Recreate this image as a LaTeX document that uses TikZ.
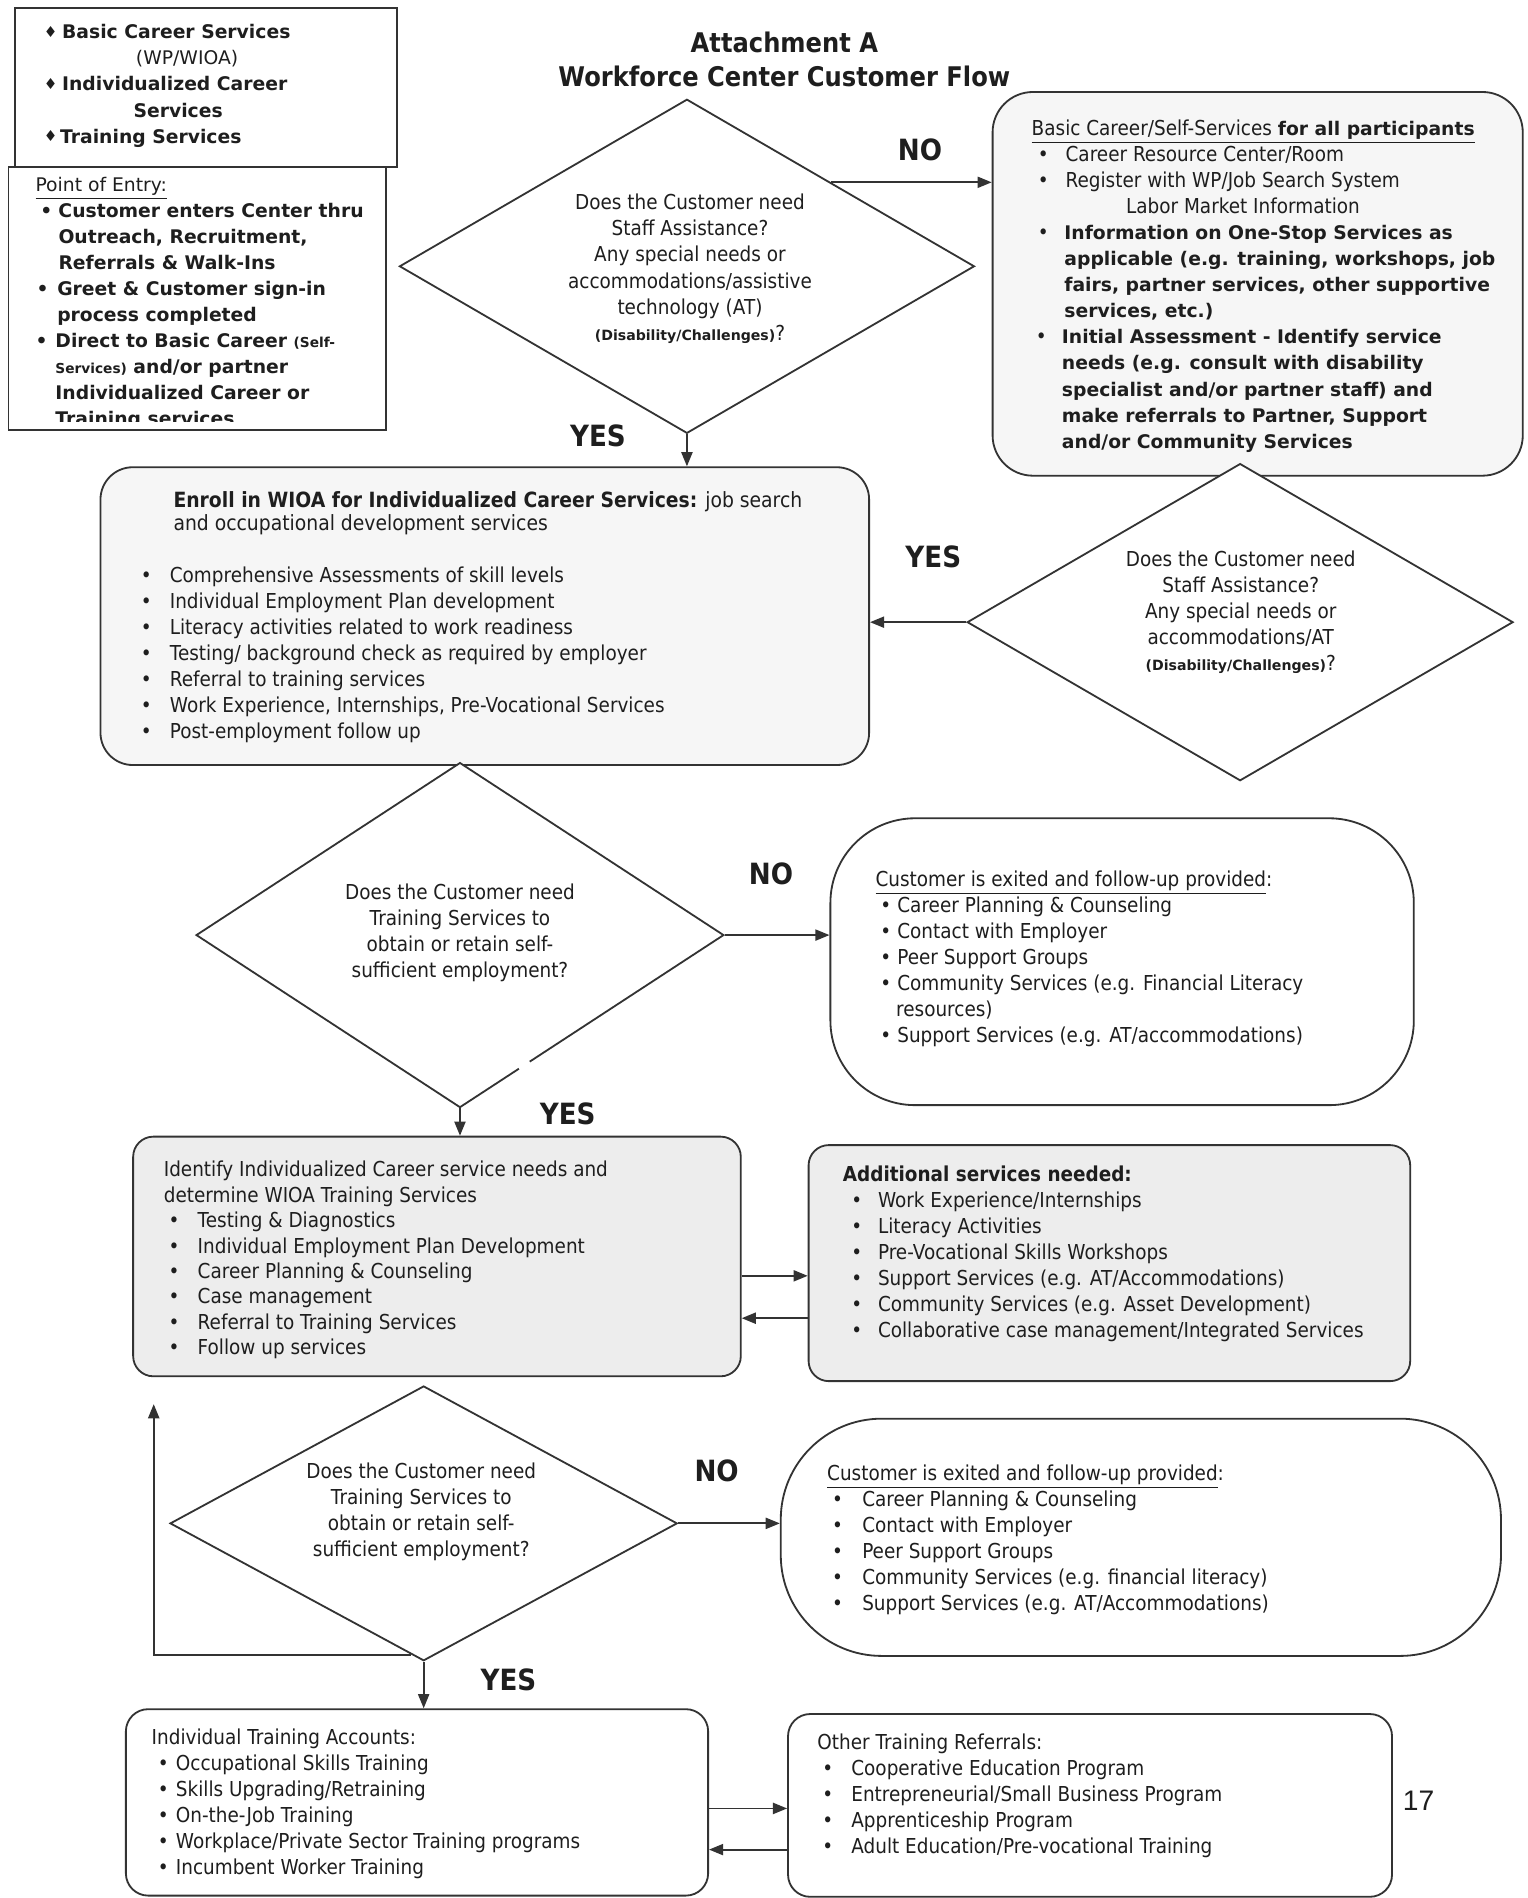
\documentclass[tikz,border=0pt]{standalone}
\usepackage{fontspec}
\setmainfont{DejaVu Sans}[FakeStretch=0.895]
\newfontfamily\verd{DejaVu Sans}
\newfontfamily\arialf{Liberation Sans}
\usetikzlibrary{shapes.geometric,arrows.meta,calc}
\definecolor{ink}{HTML}{1E1E1E}
\definecolor{lineink}{HTML}{333333}
\definecolor{fillA}{HTML}{F6F6F6}
\definecolor{fillB}{HTML}{EDEDED}
\newcommand\bodyf{\fontsize{10.2}{12.9}\selectfont}
\newcommand\vbf{\verd\bfseries\fontsize{9.3}{12.9}\selectfont}
\newcommand\firstl{\rule{0pt}{8pt}}
\newcommand\dmd{\raisebox{0.8pt}{\verd\fontsize{7.5}{7.5}\selectfont\char"2666}}
\newcommand\bul[2][0pt]{\hspace*{#1}\makebox[#2][l]{\textbullet}}
\newcommand\smallbold[1]{{\verd\bfseries\fontsize{7}{12.9}\selectfont #1}}
\begin{document}
\begin{tikzpicture}[x=0.6pt,y=-0.6pt,
  box/.style={draw=lineink, line width=0.9pt, inner sep=0pt},
  dia/.style={diamond, draw=lineink, line width=0.9pt, fill=white, inner sep=0pt},
  txt/.style={anchor=north west, inner sep=0pt, align=left, text=ink, font=\bodyf},
  ctxt/.style={anchor=center, inner sep=0pt, align=center, text=ink, font=\bodyf},
  lab/.style={inner sep=0pt, text=ink, font=\bfseries\fontsize{14.5}{16}\selectfont},
  arr/.style={draw=lineink, line width=0.9pt, -{Triangle[length=7pt,width=5.5pt]}}]
\useasboundingbox (0,0) rectangle (1262,1568);
\fill[white] (0,0) rectangle (1262,1568);

% ---------- boxes ----------
\node[box, minimum width=189.4pt, minimum height=78.7pt] (tl1) at (170.2,72.5) {};
\node[box, minimum width=187.2pt, minimum height=130.2pt] (tl2) at (163,246.5) {};
\node[box, rounded corners=20pt, fill=fillA, minimum width=262.8pt, minimum height=190.2pt] (basic) at (1039,234.5) {};
\node[box, rounded corners=16pt, fill=fillA, minimum width=381pt, minimum height=147.6pt] (enroll) at (400.5,509) {};
\node[box, rounded corners=42pt, minimum width=289.2pt, minimum height=142.2pt] (exit1) at (927,794.5) {};
\node[box, rounded corners=10pt, fill=fillB, minimum width=301.2pt, minimum height=118.8pt] (ident) at (361,1038) {};
\node[box, rounded corners=10pt, fill=fillB, minimum width=298.2pt, minimum height=117pt] (addl) at (916.5,1043.5) {};
\node[box, rounded corners=50pt, minimum width=357pt, minimum height=117.6pt] (exit2) at (942.5,1270) {};
\node[box, rounded corners=11pt, minimum width=288.6pt, minimum height=92.4pt] (ita) at (344.5,1489) {};
\node[box, rounded corners=11pt, minimum width=299.4pt, minimum height=90.6pt] (other) at (900.5,1491.5) {};

% ---------- diamonds ----------
\node[dia, minimum width=285pt, minimum height=165.6pt] (d1) at (567.5,220) {};
\node[dia, minimum width=270.6pt, minimum height=157.2pt] (d2) at (1024.5,514) {};
\node[dia, minimum width=261.6pt, minimum height=171pt] (d3) at (380,772.5) {};
\node[dia, minimum width=251.4pt, minimum height=136.2pt] (d4) at (350,1258.5) {};
\draw[white, line width=3pt] ($(d3.east)!0.735!(d3.south)$) -- ($(d3.east)!0.775!(d3.south)$);

% ---------- title ----------
\node[lab, font=\bfseries\fontsize{13.4}{16}\selectfont] (title1) at (648,35) {Attachment A};
\node[lab, font=\bfseries\fontsize{13.4}{16}\selectfont] (title2) at (648,63) {Workforce Center Customer Flow};

% ---------- top-left texts ----------
\node[txt, font=\vbf] (tl1t) at (36,18.5) {\firstl\makebox[9pt][l]{\dmd}Basic Career Services\\
\hspace*{45.6pt}{\mdseries (WP/WIOA)}\\
\makebox[9pt][l]{\dmd}Individualized Career\\
\hspace*{44.4pt}Services\\
\makebox[8pt][l]{\dmd}Training Services};

\begin{scope}
\clip (7,138) rectangle (319,348);
\node[txt, font=\vbf] (tl2t) at (29,144.5) {\firstl{\mdseries\underline{Point of Entry:}}\\
\bul[2.4pt]{9pt}Customer enters Center thru\\
\hspace*{11.4pt}Outreach, Recruitment,\\
\hspace*{11.4pt}Referrals \& Walk-Ins\\
\bul[0.6pt]{10.2pt}Greet \& Customer sign-in\\
\hspace*{10.8pt}process completed\\
\bul{9.9pt}Direct to Basic Career {\fontsize{6.8}{12.9}\selectfont(Self-}\\
\hspace*{9.9pt}{\fontsize{6.8}{12.9}\selectfont Services)} and/or partner\\
\hspace*{9.9pt}Individualized Career or\\
\hspace*{9.9pt}Training services};
\end{scope}

% ---------- Basic career box text ----------
\node[txt] (basict) at (852,98.5) {\firstl\underline{Basic Career/Self-Services {\vbf for all participants}}\\
\bul[3pt]{13.8pt}Career Resource Center/Room\\
\bul[3pt]{13.8pt}Register with WP/Job Search System\\
\hspace*{46.8pt}Labor Market Information\\
\bul[3pt]{13.2pt}{\vbf Information on One-Stop Services as}\\
\hspace*{16.2pt}{\vbf applicable (e.g. training, workshops, job}\\
\hspace*{16.2pt}{\vbf fairs, partner services, other supportive}\\
\hspace*{16.2pt}{\vbf services, etc.)}\\
\bul[2pt]{13pt}{\vbf Initial Assessment - Identify service}\\
\hspace*{15pt}{\vbf needs (e.g. consult with disability}\\
\hspace*{15pt}{\vbf specialist and/or partner staff) and}\\
\hspace*{15pt}{\vbf make referrals to Partner, Support}\\
\hspace*{15pt}{\vbf and/or Community Services}};

% ---------- diamond texts ----------
\node[ctxt] (d1t) at (570,222) {Does the Customer need\\Staff Assistance?\\Any special needs or\\accommodations/assistive\\technology (AT)\\\smallbold{(Disability/Challenges)}?};
\node[ctxt] (d2t) at (1025,506) {Does the Customer need\\Staff Assistance?\\Any special needs or\\accommodations/AT\\\smallbold{(Disability/Challenges)}?};
\node[ctxt] (d3t) at (380,770.5) {Does the Customer need\\Training Services to\\obtain or retain self-\\sufficient employment?};
\node[ctxt] (d4t) at (348,1249) {Does the Customer need\\Training Services to\\obtain or retain self-\\sufficient employment?};

% ---------- enroll ----------
\node[txt, font=\fontsize{10.4}{11.4}\selectfont] (enrollh) at (143,405.5) {\firstl{\bfseries Enroll in WIOA for Individualized Career Services:} job search\\and occupational development services};
\node[txt] (enrollb) at (116,467.5) {\firstl\bul{14.4pt}Comprehensive Assessments of skill levels\\
\bul{14.4pt}Individual Employment Plan development\\
\bul{14.4pt}Literacy activities related to work readiness\\
\bul{14.4pt}Testing/ background check as required by employer\\
\bul{14.4pt}Referral to training services\\
\bul{14.4pt}Work Experience, Internships, Pre-Vocational Services\\
\bul{14.4pt}Post-employment follow up};

% ---------- exit 1 ----------
\node[txt] (exit1t) at (723,718.5) {\firstl\underline{Customer is exited and follow-up provided}:\\
\bul[2.4pt]{8.4pt}Career Planning \& Counseling\\
\bul[2.4pt]{8.4pt}Contact with Employer\\
\bul[2.4pt]{8.4pt}Peer Support Groups\\
\bul[2.4pt]{8.4pt}Community Services (e.g. Financial Literacy\\
\hspace*{10.2pt}resources)\\
\bul[2.4pt]{8.4pt}Support Services (e.g. AT/accommodations)};

% ---------- identify ----------
\node[txt, font=\fontsize{10.2}{12.6}\selectfont] (identt) at (135,958.5) {\firstl Identify Individualized Career service needs and\\
determine WIOA Training Services\\
\bul[2.4pt]{14.4pt}Testing \& Diagnostics\\
\bul[2.4pt]{14.4pt}Individual Employment Plan Development\\
\bul[2.4pt]{14.4pt}Career Planning \& Counseling\\
\bul[2.4pt]{14.4pt}Case management\\
\bul[2.4pt]{14.4pt}Referral to Training Services\\
\bul[2.4pt]{14.4pt}Follow up services};

% ---------- additional ----------
\node[txt] (addlt) at (696,962.5) {\firstl{\bfseries Additional services needed:}\\
\bul[4.2pt]{13.2pt}Work Experience/Internships\\
\bul[4.2pt]{13.2pt}Literacy Activities\\
\bul[4.2pt]{13.2pt}Pre-Vocational Skills Workshops\\
\bul[4.2pt]{13.2pt}Support Services (e.g. AT/Accommodations)\\
\bul[4.2pt]{13.2pt}Community Services (e.g. Asset Development)\\
\bul[4.2pt]{13.2pt}Collaborative case management/Integrated Services};

% ---------- exit 2 ----------
\node[txt] (exit2t) at (683,1209.5) {\firstl\underline{Customer is exited and follow-up provided}:\\
\bul[2.4pt]{15pt}Career Planning \& Counseling\\
\bul[2.4pt]{15pt}Contact with Employer\\
\bul[2.4pt]{15pt}Peer Support Groups\\
\bul[2.4pt]{15pt}Community Services (e.g. financial literacy)\\
\bul[2.4pt]{15pt}Support Services (e.g. AT/Accommodations)};

% ---------- ITA / other ----------
\node[txt] (itat) at (125,1427.5) {\firstl Individual Training Accounts:\\
\bul[3pt]{9pt}Occupational Skills Training\\
\bul[3pt]{9pt}Skills Upgrading/Retraining\\
\bul[3pt]{9pt}On-the-Job Training\\
\bul[3pt]{9pt}Workplace/Private Sector Training programs\\
\bul[3pt]{9pt}Incumbent Worker Training};
\node[txt] (othert) at (675,1431.5) {\firstl Other Training Referrals:\\
\bul[2.4pt]{14.4pt}Cooperative Education Program\\
\bul[2.4pt]{14.4pt}Entrepreneurial/Small Business Program\\
\bul[2.4pt]{14.4pt}Apprenticeship Program\\
\bul[2.4pt]{14.4pt}Adult Education/Pre-vocational Training};

% ---------- labels ----------
\node[lab] (no1) at (760,124) {NO};
\node[lab] (yes1) at (494,360) {YES};
\node[lab] (yes2) at (771,460) {YES};
\node[lab] (no3) at (637,722) {NO};
\node[lab] (yes3) at (469,920) {YES};
\node[lab] (no4) at (592,1215) {NO};
\node[lab] (yes4) at (420,1388) {YES};
\node[inner sep=0pt, text=ink, font=\arialf\fontsize{14}{16}\selectfont] (pagenum) at (1172,1488) {17};

% ---------- connectors ----------
\coordinate (d1no) at ($(d1.north)!0.5!(d1.east)$);
\draw[arr] (d1no) -- (d1no -| basic.west);
\draw[arr] (d1.south) -- (d1.south |- enroll.north);
\draw[arr] (d2.west) -- (d2.west -| enroll.east);
\draw[arr] (d3.east) -- (d3.east -| exit1.west);
\draw[arr] (d3.south) -- (d3.south |- ident.north);
\coordinate (ia) at ([yshift=-9.6pt]ident.east);
\coordinate (ai) at ([yshift=-30.6pt]ident.east);
\draw[arr] (ia) -- (ia -| addl.west);
\draw[arr] (ai -| addl.west) -- (ai);
\draw[arr] (d4.east) -- (d4.east -| exit2.west);
\draw[arr] (d4.south) -- (d4.south |- ita.north);
\coordinate (lp) at ($(d4.west)!0.95!(d4.south)$);
\coordinate (loopend) at (127,1160);
\draw[arr] (lp) -- (lp -| loopend) -- (loopend);
\coordinate (io) at ([yshift=-3pt]ita.east);
\coordinate (oi) at ([yshift=-23.4pt]ita.east);
\draw[arr] (io) -- (io -| other.west);
\draw[arr] (oi -| other.west) -- (oi);
\end{tikzpicture}
\end{document}
